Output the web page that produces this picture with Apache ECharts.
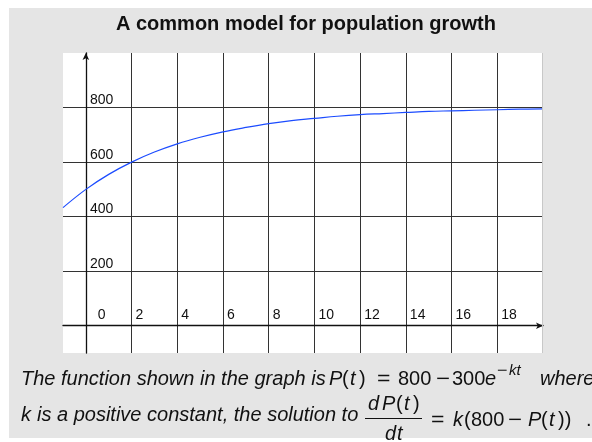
<!DOCTYPE html>
<html>
<head>
<meta charset="utf-8">
<script src="https://cdn.jsdelivr.net/npm/echarts@6/dist/echarts.min.js"></script>
<style>
  html, body { margin: 0; padding: 0; background: #fff; }
  #main { width: 592px; height: 442px; }
</style>
</head>
<body>
<div id="main"></div>
<script>
  // values
  const tValues = [-1, 0, 1, 2, 3, 4, 5, 6, 7, 8, 9, 10, 11, 12, 13, 14, 15, 16, 17, 18, 19, 20];
  const population = [433, 500, 555, 600, 637, 667, 691, 711, 727, 741, 752, 760, 768, 774, 778, 782, 786, 788, 790, 792, 794, 795];
  const xTicks = [0, 2, 4, 6, 8, 10, 12, 14, 16, 18];
  const yTicks = [0, 200, 400, 600, 800];
  const yLabels = [200, 400, 600, 800];

  const titleText = 'A common model for population growth';
  const sans = 'Liberation Sans, Arial, Helvetica, sans-serif';

  let main = document.getElementById('main');
  let myechart = echarts.init(main);

  // one piece of text for the graphic layer
  function txt(x, y, text, size, opts) {
    opts = opts || {};
    return {
      type: 'text', x: x, y: y, z: 10,
      scaleX: opts.sx || 1,
      style: {
        text: text,
        font: (opts.style || 'normal') + ' ' + (opts.weight || 'normal') + ' ' + size + 'px ' + sans,
        fill: '#111',
        verticalAlign: 'middle',
        align: opts.align || 'left'
      }
    };
  }
  const it = { style: 'italic' };
  const minus = { sx: 1.2 };

  let option = {
    backgroundColor: '#fff',
    animation: false,
    grid: {
      left: 63, top: 53, width: 480, height: 300,
      show: true, backgroundColor: '#fff', borderWidth: 0
    },
    xAxis: {
      type: 'value',
      min: -1,
      max: 20,
      axisLine: {
        onZero: true,
        symbol: ['none', 'arrow'],
        symbolSize: [5, 7],
        lineStyle: { color: '#111', width: 1.3 }
      },
      axisTick: { show: false, customValues: xTicks },
      axisLabel: {
        inside: true,
        customValues: xTicks,
        align: 'left',
        margin: 31,
        color: '#111',
        fontSize: 14,
        fontFamily: sans,
        formatter: function (v) {
          return v === 0 ? '{z|0}' : '{n|' + v + '}';
        },
        rich: {
          z: { padding: [0, 0, 0, 12], fontSize: 14, fontFamily: sans, color: '#111' },
          n: { padding: [0, 0, 0, 4], fontSize: 14, fontFamily: sans, color: '#111' }
        }
      },
      splitLine: { show: true, lineStyle: { color: '#333', width: 1 } }
    },
    yAxis: {
      type: 'value',
      min: -100,
      max: 1000,
      axisLine: {
        onZero: true,
        symbol: ['none', 'arrow'],
        symbolSize: [5, 7],
        lineStyle: { color: '#111', width: 1.3 }
      },
      axisTick: { show: false, customValues: yTicks },
      axisLabel: {
        inside: true,
        customValues: yLabels,
        align: 'left',
        verticalAlign: 'bottom',
        margin: 27,
        color: '#111',
        fontSize: 14,
        fontFamily: sans
      },
      splitLine: { show: true, lineStyle: { color: '#333', width: 1 } }
    },
    series: [{
      type: 'line',
      data: tValues.map((t, i) => [t, population[i]]),
      smooth: 0.4,
      symbol: 'none',
      lineStyle: { color: '#1c4cff', width: 1.2 },
      clip: true,
      z: 5
    }],
    graphic: [
      { type: 'rect', z: -10, shape: { x: 9, y: 8, width: 583, height: 430 }, style: { fill: '#e5e5e5' } },
      { type: 'line', z: 10, shape: { x1: 542.5, y1: 53, x2: 542.5, y2: 353 }, style: { stroke: '#c8c8c8', lineWidth: 1 } },
      txt(116, 24, titleText, 20, { weight: 'bold' }),
      // caption line 1
      txt(21, 379, 'The function shown in the graph is', 20, it),
      txt(329, 379, 'P', 20, it),
      txt(342, 379, '(', 20),
      txt(350, 379, 't', 20, it),
      txt(359, 379, ')', 20),
      txt(377, 379, '=', 20, { sx: 1.15 }),
      txt(398, 379, '800', 20),
      txt(436, 379, '\u2212', 20, minus),
      txt(452, 379, '300', 20),
      txt(485, 379, 'e', 20, it),
      txt(497, 371, '\u2212', 15, minus),
      txt(509, 371, 'kt', 15, it),
      txt(540, 379, 'where', 20, it),
      // caption line 2
      txt(21, 415, 'k', 20, it),
      txt(37, 415, 'is a positive constant, the solution to', 20, it),
      txt(368, 404, 'd', 20, it),
      txt(382, 404, 'P', 20, it),
      txt(396, 404, '(', 20),
      txt(404, 404, 't', 20, it),
      txt(413, 404, ')', 20),
      { type: 'line', z: 10, shape: { x1: 365, y1: 418.5, x2: 422, y2: 418.5 }, style: { stroke: '#111', lineWidth: 1 } },
      txt(385, 434, 'd', 20, it),
      txt(397, 434, 't', 20, it),
      txt(431, 420, '=', 20, { sx: 1.15 }),
      txt(453, 420, 'k', 20, it),
      txt(464, 420, '(', 20),
      txt(471, 420, '800', 20),
      txt(508, 420, '\u2212', 20, minus),
      txt(528, 420, 'P', 20, it),
      txt(541, 420, '(', 20),
      txt(549, 420, 't', 20, it),
      txt(558, 420, '))', 20),
      txt(586, 420, '.', 20)
    ]
  };
  myechart.setOption(option);
</script>
</body>
</html>
